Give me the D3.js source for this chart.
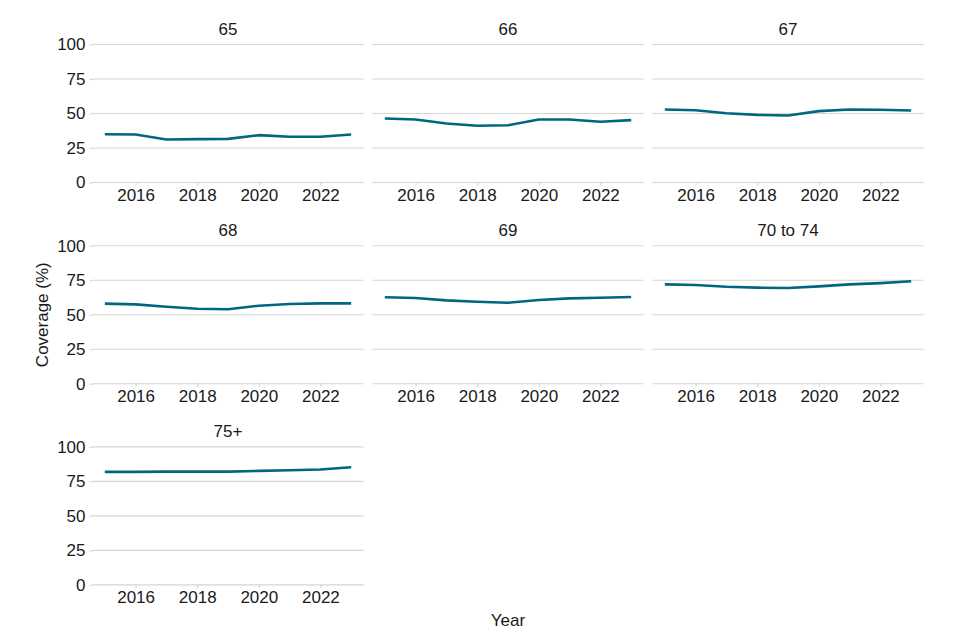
<!DOCTYPE html>
<html>
<head>
<meta charset="utf-8">
<script src="https://cdn.jsdelivr.net/npm/d3@7"></script>
<style>
  html, body { margin: 0; padding: 0; background: #ffffff; }
  svg { display: block; }
  text { font-family: "Liberation Sans", Arial, sans-serif; fill: #1a1a1a; }
</style>
</head>
<body>
<svg id="chart" width="960" height="640"></svg>
<script>
// ---- Data ----
const years = [2015, 2016, 2017, 2018, 2019, 2020, 2021, 2022, 2023];
const groups = ["65", "66", "67", "68", "69", "70 to 74", "75+"];
const age65   = [35.0, 34.8, 31.2, 31.4, 31.6, 34.3, 33.1, 33.1, 34.8];
const age66   = [46.4, 45.7, 42.8, 41.1, 41.5, 45.7, 45.7, 44.0, 45.2];
const age67   = [52.9, 52.4, 50.2, 49.0, 48.6, 51.7, 52.9, 52.7, 52.2];
const age68   = [58.0, 57.5, 55.8, 54.3, 53.9, 56.5, 57.7, 58.2, 58.2];
const age69   = [62.6, 62.1, 60.4, 59.4, 58.7, 60.6, 61.8, 62.3, 62.8];
const age7074 = [72.0, 71.5, 70.3, 69.6, 69.3, 70.5, 72.0, 72.9, 74.2];
const age75p  = [81.9, 81.9, 82.1, 82.1, 82.1, 82.6, 83.1, 83.6, 85.3];
const seriesValues = [age65, age66, age67, age68, age69, age7074, age75p];
const yTicks = [0, 25, 50, 75, 100];
const xTicks = [2016, 2018, 2020, 2022];
const xTitle = "Year";
const yTitle = "Coverage (%)";

// ---- Layout ----
const svg = d3.select("#chart");
const panelW = 271, panelH = 138;
const colLeft = [92.5, 372.5, 652.5];
const rowTop = [44.5, 245.7, 446.9];
const lineColor = "#00677f";
const gridColor = "#d4d4d4";
const fs = 17;

const x = d3.scaleLinear()
  .domain([2015 - 0.4, 2023 + 0.4])
  .range([0, panelW]);
const y = d3.scaleLinear().domain([0, 100]).range([panelH, 0]);

const line = d3.line()
  .x(d => x(d.year))
  .y(d => y(d.value));

groups.forEach((g, i) => {
  const col = i % 3, row = Math.floor(i / 3);
  const p = svg.append("g")
    .attr("transform", `translate(${colLeft[col]},${rowTop[row]})`);

  // grid lines
  p.selectAll("line.grid").data(yTicks).enter().append("line")
    .attr("class", "grid")
    .attr("x1", 0).attr("x2", panelW)
    .attr("y1", d => y(d)).attr("y2", d => y(d))
    .attr("stroke", gridColor).attr("stroke-width", 1.1);

  // y axis (first column only)
  if (col === 0) {
    const yAxis = d3.axisLeft(y).tickValues(yTicks).tickSize(3).tickPadding(4);
    const ya = p.append("g").call(yAxis);
    ya.select(".domain").remove();
    ya.selectAll(".tick line").attr("stroke", gridColor).attr("stroke-width", 1.1);
    ya.selectAll(".tick text")
      .attr("font-size", fs).attr("fill", "#1a1a1a")
      .style("font-family", '"Liberation Sans", Arial, sans-serif');
  }

  // x axis
  const xAxis = d3.axisBottom(x).tickValues(xTicks).tickFormat(d3.format("d")).tickSize(3).tickPadding(3);
  const xa = p.append("g").attr("transform", `translate(0,${panelH})`).call(xAxis);
  xa.select(".domain").remove();
  xa.selectAll(".tick line").attr("stroke", gridColor).attr("stroke-width", 1.1);
  xa.selectAll(".tick text")
    .attr("font-size", fs).attr("fill", "#1a1a1a")
    .style("font-family", '"Liberation Sans", Arial, sans-serif');

  // panel title
  p.append("text")
    .attr("x", panelW / 2).attr("y", -9.5)
    .attr("text-anchor", "middle")
    .attr("font-size", fs)
    .text(g);

  // series line
  const pts = years.map((yr, k) => ({ year: yr, value: seriesValues[i][k] }));
  p.append("path")
    .datum(pts)
    .attr("d", line)
    .attr("fill", "none")
    .attr("stroke", lineColor)
    .attr("stroke-width", 2.6)
    .attr("stroke-linejoin", "round");
});

// axis titles
svg.append("text")
  .attr("x", (colLeft[0] + colLeft[2] + panelW) / 2)
  .attr("y", 626)
  .attr("text-anchor", "middle")
  .attr("font-size", fs)
  .text(xTitle);

svg.append("text")
  .attr("transform", `translate(48,${(rowTop[0] + rowTop[2] + panelH) / 2}) rotate(-90)`)
  .attr("text-anchor", "middle")
  .attr("font-size", fs)
  .text(yTitle);
</script>
</body>
</html>
